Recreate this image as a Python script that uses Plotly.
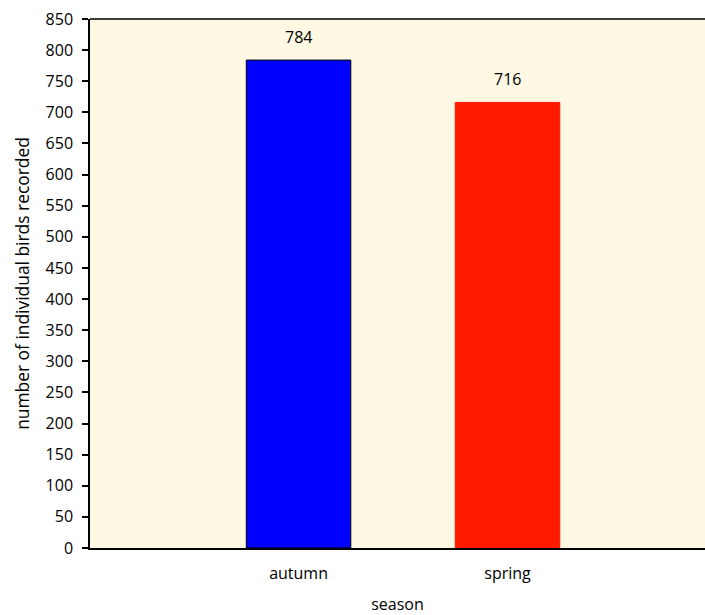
import plotly.graph_objects as go

seasons = ["autumn", "spring"]
birds = [784, 716]
bar_colors = ["#0000FF", "#FF1A00"]
outline_colors = ["#000000", "#FF1A00"]
y_ticks = list(range(0, 851, 50))

FONT = "Open Sans"

fig = go.Figure()
fig.add_trace(go.Bar(
    x=seasons, y=birds, width=0.5,
    marker=dict(color=bar_colors, line=dict(color=outline_colors, width=1)),
    hoverinfo="skip",
))

for s, v in zip(seasons, birds):
    fig.add_annotation(x=s, y=v, text=str(v), showarrow=False,
                       yanchor="middle", yshift=23,
                       font=dict(family=FONT, size=16, color="#000000"))

# top border of the plot area (no right border in the reference)
fig.add_shape(type="line", xref="paper", yref="paper", x0=0, x1=1, y0=1, y1=1,
              line=dict(color="#000000", width=1.5))

fig.update_layout(
    width=705, height=615,
    margin=dict(l=90, r=0, t=19, b=67),
    paper_bgcolor="#FFFFFF",
    plot_bgcolor="#FFF8E3",
    showlegend=False,
    font=dict(family=FONT, size=16, color="#000000"),
    bargap=0.5,
)
fig.update_xaxes(
    type="category", range=[-0.998, 1.945],
    showline=True, linecolor="#000000", linewidth=1.5,
    ticks="", showgrid=False, zeroline=False,
    ticklabelstandoff=10,
    title=dict(text="season", standoff=20, font=dict(family=FONT, size=16)),
)
fig.update_yaxes(
    range=[0, 850], tickvals=y_ticks,
    showline=True, linecolor="#000000", linewidth=1.5,
    ticks="outside", ticklen=6, tickcolor="#000000", tickwidth=1.5,
    showgrid=False, zeroline=False,
    ticklabelstandoff=6,
    title=dict(text="number of individual birds recorded", standoff=12,
               font=dict(family=FONT, size=17.4)),
)

fig.write_html("out.html")
